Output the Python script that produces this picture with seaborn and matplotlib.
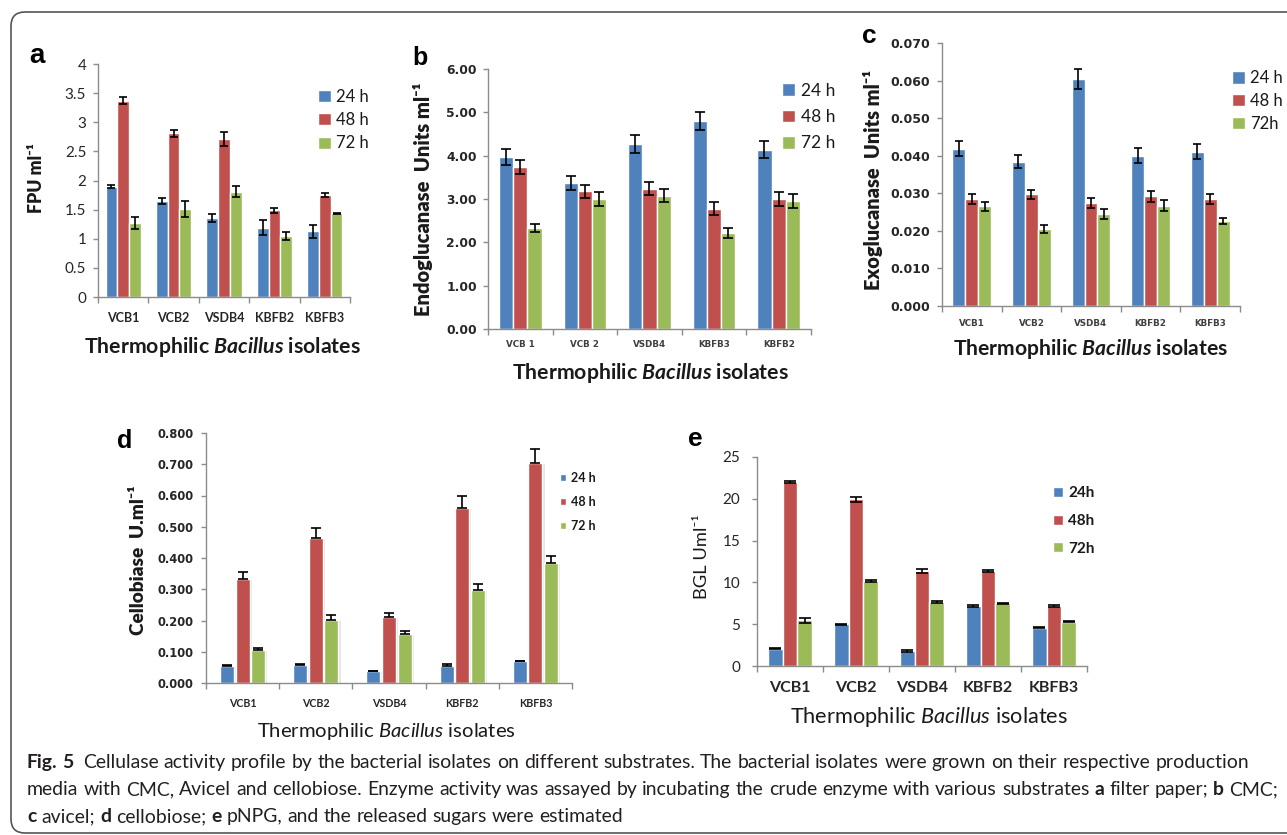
import numpy as np
import pandas as pd
import matplotlib
matplotlib.use("Agg")
import matplotlib.pyplot as plt
import seaborn as sns
import matplotlib.patheffects as pe
from matplotlib.patches import FancyBboxPatch
from matplotlib.transforms import IdentityTransform

# ---------------- data ----------------
times = ["24 h", "48 h", "72 h"]
times_c = ["24 h", "48 h", "72h"]
times_e = ["24h", "48h", "72h"]

isolates_a = ["VCB1", "VCB2", "VSDB4", "KBFB2", "KBFB3"]
a_24 = [1.89, 1.65, 1.36, 1.19, 1.13]
a_48 = [3.37, 2.81, 2.71, 1.49, 1.75]
a_72 = [1.27, 1.51, 1.81, 1.04, 1.44]
a_err24 = [0.025, 0.045, 0.07, 0.13, 0.11]
a_err48 = [0.06, 0.065, 0.125, 0.045, 0.04]
a_err72 = [0.095, 0.13, 0.10, 0.07, 0.01]
a_ticks = [0, 0.5, 1, 1.5, 2, 2.5, 3, 3.5, 4]
a_ticklabels = ["0", "0.5", "1", "1.5", "2", "2.5", "3", "3.5", "4"]

isolates_b = ["VCB 1", "VCB 2", "VSDB4", "KBFB3", "KBFB2"]
b_24 = [3.97, 3.37, 4.27, 4.80, 4.14]
b_48 = [3.74, 3.18, 3.24, 2.78, 3.00]
b_72 = [2.34, 3.01, 3.08, 2.22, 2.95]
b_err24 = [0.185, 0.17, 0.20, 0.21, 0.19]
b_err48 = [0.16, 0.15, 0.155, 0.15, 0.16]
b_err72 = [0.09, 0.16, 0.155, 0.11, 0.155]
b_ticks = [0, 1, 2, 3, 4, 5, 6]
b_ticklabels = ["0.00", "1.00", "2.00", "3.00", "4.00", "5.00", "6.00"]

isolates_c = ["VCB1", "VCB2", "VSDB4", "KBFB2", "KBFB3"]
c_24 = [0.0419, 0.0384, 0.0604, 0.0400, 0.0410]
c_48 = [0.0285, 0.0297, 0.0274, 0.0292, 0.0285]
c_72 = [0.0266, 0.0205, 0.0244, 0.0267, 0.0226]
c_err24 = [0.0020, 0.0018, 0.0027, 0.0020, 0.0020]
c_err48 = [0.0013, 0.0013, 0.0014, 0.0015, 0.0014]
c_err72 = [0.0012, 0.0010, 0.0013, 0.0014, 0.0009]
c_ticks = [0, 0.01, 0.02, 0.03, 0.04, 0.05, 0.06, 0.07]
c_ticklabels = ["0.000", "0.010", "0.020", "0.030", "0.040", "0.050", "0.060", "0.070"]

isolates_d = ["VCB1", "VCB2", "VSDB4", "KBFB2", "KBFB3"]
d_24 = [0.055, 0.058, 0.037, 0.055, 0.069]
d_48 = [0.332, 0.465, 0.210, 0.561, 0.705]
d_72 = [0.106, 0.201, 0.156, 0.297, 0.383]
d_err24 = [0.003, 0.003, 0.002, 0.007, 0.003]
d_err48 = [0.022, 0.030, 0.013, 0.038, 0.044]
d_err72 = [0.007, 0.016, 0.011, 0.021, 0.025]
d_ticks = [0, 0.1, 0.2, 0.3, 0.4, 0.5, 0.6, 0.7, 0.8]
d_ticklabels = ["0.000", "0.100", "0.200", "0.300", "0.400", "0.500", "0.600", "0.700", "0.800"]

isolates_e = ["VCB1", "VCB2", "VSDB4", "KBFB2", "KBFB3"]
e_24 = [2.08, 5.00, 1.80, 7.16, 4.56]
e_48 = [22.0, 19.96, 11.36, 11.40, 7.16]
e_72 = [5.48, 10.20, 7.64, 7.48, 5.28]
e_err24 = [0.05, 0.05, 0.10, 0.10, 0.05]
e_err48 = [0.10, 0.30, 0.25, 0.10, 0.10]
e_err72 = [0.30, 0.10, 0.10, 0.10, 0.05]
e_ticks = [0, 5, 10, 15, 20, 25]
e_ticklabels = ["0", "5", "10", "15", "20", "25"]

COLORS = ["#4F81BD", "#C0504D", "#9BBB59"]

# ---------------- style ----------------
sns.set_style("white")
plt.rcParams["font.family"] = ["Lato", "DejaVu Sans"]
plt.rcParams["mathtext.fontset"] = "custom"
plt.rcParams["mathtext.rm"] = "Lato"
plt.rcParams["mathtext.it"] = "Lato:italic"
plt.rcParams["mathtext.bf"] = "Lato:bold"
plt.rcParams["mathtext.bfit"] = "Lato:italic:bold"
plt.rcParams["text.color"] = "#1a1a1a"

W, H = 1287, 835
fig = plt.figure(figsize=(W / 100, H / 100), dpi=100)
fig.patch.set_facecolor("white")
R = fig.canvas.get_renderer()


def fbox(x0, y0, x1, y1):
    return [x0 / W, 1 - y1 / H, (x1 - x0) / W, (y1 - y0) / H]


def fpt(x, y):
    return (x / W, 1 - y / H)


def fit(t, target, vertical=False):
    for _ in range(3):
        bb = t.get_window_extent(R)
        cur = bb.height if vertical else bb.width
        if cur > 0:
            t.set_fontsize(t.get_fontsize() * target / cur)


def panel(box, cats, hues, vals, errs, ticks, ticklabels, width, capsize,
          ytick_font, xtick_font, xpad, ypad, xlabel, xlabel_pos, xlabel_w,
          xlabel_weight, ylabel, ylabel_pos, ylabel_h, ylabel_weight,
          leg_anchor, leg_font, leg_weight, leg_hl, leg_ls,
          gap=0.0, upper_only=False, shadow=False):
    ax = fig.add_axes(fbox(*box))
    rows = []
    for h, v in zip(hues, vals):
        for c, y in zip(cats, v):
            rows.append((c, h, y))
    df = pd.DataFrame(rows, columns=["isolate", "time", "value"])
    sns.barplot(data=df, x="isolate", y="value", hue="time", order=cats,
                hue_order=hues, palette=COLORS, width=width, gap=gap,
                errorbar=None, saturation=1, ax=ax, legend=True, zorder=2)
    bars = list(ax.containers[:len(hues)])
    for cont, e in zip(bars, errs):
        xs = [p.get_x() + p.get_width() / 2 for p in cont]
        ys = [p.get_height() for p in cont]
        e = np.asarray(e)
        yerr = [np.zeros(len(e)), e] if upper_only else e
        ax.errorbar(xs, ys, yerr=yerr, fmt="none", ecolor="black",
                    elinewidth=1.2, capsize=capsize, capthick=1.2, zorder=5)
        if shadow:
            for p in cont:
                p.set_path_effects([pe.SimplePatchShadow(offset=(1.6, -0.6),
                                                         shadow_rgbFace="#c8c8c8",
                                                         alpha=0.45),
                                    pe.Normal()])
    # axes styling
    for s in ["top", "right"]:
        ax.spines[s].set_visible(False)
    for s in ["left", "bottom"]:
        ax.spines[s].set_color("#8c8c8c")
        ax.spines[s].set_linewidth(1.0)
    ax.set_xlim(-0.5, len(cats) - 0.5)
    ax.set_ylim(ticks[0], ticks[-1])
    ax.set_yticks(ticks)
    ax.set_yticklabels(ticklabels)
    ax.set_xticks(range(len(cats)))
    ax.set_xticklabels(cats)
    ax.set_xticks(np.arange(-0.5, len(cats)), minor=True)
    ax.tick_params(axis="x", which="major", bottom=True, length=0, pad=xpad)
    ax.tick_params(axis="x", which="minor", bottom=True, length=4,
                   width=1, color="#8c8c8c", direction="out")
    ax.tick_params(axis="y", which="major", left=True, length=3.5, width=1,
                   color="#8c8c8c", direction="out", pad=ypad)
    fam, size, wt, col = ytick_font
    for lab in ax.get_yticklabels():
        lab.set_family(fam); lab.set_fontsize(size); lab.set_fontweight(wt); lab.set_color(col)
    fam, size, wt, col = xtick_font
    for lab in ax.get_xticklabels():
        lab.set_family(fam); lab.set_fontsize(size); lab.set_fontweight(wt); lab.set_color(col)
    ax.grid(False)
    # labels
    ax.set_xlabel(xlabel, fontsize=13, fontweight=xlabel_weight, color="#1a1a1a")
    ax.xaxis.set_label_coords(*fpt(*xlabel_pos), transform=fig.transFigure)
    ax.xaxis.label.set_verticalalignment("center")
    fit(ax.xaxis.label, xlabel_w)
    ax.set_ylabel(ylabel, fontsize=13, fontweight=ylabel_weight, color="#1a1a1a")
    ax.yaxis.set_label_coords(*fpt(*ylabel_pos), transform=fig.transFigure)
    ax.yaxis.label.set_verticalalignment("center")
    fit(ax.yaxis.label, ylabel_h, vertical=True)
    # legend
    leg = ax.get_legend()
    handles = leg.legend_handles
    labels = [t.get_text() for t in leg.get_texts()]
    leg.remove()
    ax.legend(handles, labels, loc="center left",
              bbox_to_anchor=fpt(*leg_anchor), bbox_transform=fig.transFigure,
              frameon=False, prop={"size": leg_font, "weight": leg_weight},
              handlelength=leg_hl, handleheight=leg_hl, handletextpad=0.35,
              labelspacing=leg_ls, borderpad=0, borderaxespad=0)
    return ax


XL_BOLD = r"Thermophilic $\mathbfit{Bacillus}$ isolates"
XL_NORM = r"Thermophilic $\mathit{Bacillus}$ isolates"

# panel a
panel((98, 64, 350, 297), isolates_a, times, [a_24, a_48, a_72],
      [a_err24, a_err48, a_err72], a_ticks, a_ticklabels, 0.70, 2.6,
      ("Lato", 11, "normal", "#262626"), ("Lato", 9, "bold", "#262626"),
      10.8, 5,
      XL_BOLD, (222, 347), 277, "bold",
      "FPU ml\u207b\u00b9", (37, 178), 70, "heavy",
      (318, 120), 12, "normal", 0.75, 0.45)

# panel b
panel((488, 69, 811, 329), isolates_b, times, [b_24, b_48, b_72],
      [b_err24, b_err48, b_err72], b_ticks, b_ticklabels, 0.66, 3.6,
      ("DejaVu Sans", 8.8, "bold", "#262626"), ("DejaVu Sans", 6.3, "bold", "#404040"),
      8, 4.5,
      XL_BOLD, (650, 373), 277, "bold",
      "Endoglucanase  Units ml\u207b\u00b9", (423, 199), 235, "heavy",
      (782, 117), 12.5, "normal", 0.75, 0.6)

# panel c
panel((942, 43, 1240, 306), isolates_c, times_c, [c_24, c_48, c_72],
      [c_err24, c_err48, c_err72], c_ticks, c_ticklabels, 0.65, 3.1,
      ("DejaVu Sans", 9, "bold", "#262626"), ("DejaVu Sans", 6.3, "bold", "#404040"),
      9.4, 5.3,
      XL_BOLD, (1091, 349), 275, "bold",
      "Exoglucanase  Units ml\u207b\u00b9", (873, 180), 220, "heavy",
      (1232, 101), 12, "normal", 0.75, 0.4)

# panel d
panel((206, 433, 572, 683), isolates_d, times, [d_24, d_48, d_72],
      [d_err24, d_err48, d_err72], d_ticks, d_ticklabels, 0.64, 3.6,
      ("DejaVu Sans", 8.3, "bold", "#262626"), ("Lato", 7.7, "bold", "#262626"),
      10.8, 5.3,
      XL_NORM, (386, 732), 258, "normal",
      "Cellobiase  U.ml\u207b\u00b9", (138, 560), 150, "heavy",
      (560, 502), 9, "bold", 0.5, 0.95, gap=0.1, upper_only=True, shadow=True)

# panel e
panel((757, 457, 1087, 666), isolates_e, times_e, [e_24, e_48, e_72],
      [e_err24, e_err48, e_err72], e_ticks, e_ticklabels, 0.68, 4.3,
      ("Lato", 11, "normal", "#262626"), ("Lato", 11.5, "bold", "#262626"),
      10.8, 8.7,
      XL_NORM, (929, 717), 278, "normal",
      "BGL Uml\u207b\u00b9", (702, 557), 85, "normal",
      (1053, 521), 11, "bold", 0.65, 0.9)

# panel letters
for letter, x, y, s in [("a", 29, 63, 20), ("b", 412, 65, 18), ("c", 862, 43, 19),
                        ("d", 117, 448, 18), ("e", 688, 446, 19)]:
    fig.text(*fpt(x, y), letter, fontsize=s, fontweight="bold",
             family="Liberation Sans", va="baseline", ha="left", color="black")

# frame
frame = FancyBboxPatch((11, 2), 1400, 821, boxstyle="round,pad=0,rounding_size=14",
                       transform=IdentityTransform(), fill=False,
                       edgecolor="#555555", linewidth=1.2)
fig.add_artist(frame)

# caption
CAP_FAMILY = "Lato"
cap_lines = [
    [("Fig. 5", "bold"),
     ("Cellulase activity profile by the bacterial isolates on different substrates. "
      "The bacterial isolates were grown on their respective production", "normal")],
    [("media with CMC, Avicel and cellobiose. Enzyme activity was assayed by incubating "
      "the crude enzyme with various substrates", "normal"),
     ("a", "bold"), ("filter paper;", "normal"), ("b", "bold"), ("CMC;", "normal")],
    [("c", "bold"), ("avicel;", "normal"), ("d", "bold"), ("cellobiose;", "normal"),
     ("e", "bold"), ("pNPG, and the released sugars were estimated", "normal")],
]


def tokens_of(pieces):
    out = []
    for s, w in pieces:
        for word in s.split():
            out.append((word, w))
    return out


def space_w(size):
    t1 = fig.text(0, 0, "x x", fontsize=size, family=CAP_FAMILY)
    t2 = fig.text(0, 0, "xx", fontsize=size, family=CAP_FAMILY)
    sp = t1.get_window_extent(R).width - t2.get_window_extent(R).width
    t1.remove(); t2.remove()
    return sp


def line_width(pieces, size):
    toks = tokens_of(pieces)
    sp = space_w(size)
    tot = 0
    for word, w in toks:
        t = fig.text(0, 0, word, fontsize=size, fontweight=w, family=CAP_FAMILY)
        tot += t.get_window_extent(R).width
        t.remove()
    return tot + sp * (len(toks) - 1)


def draw_line(pieces, x0, ybase, size, extra_after=None):
    toks = tokens_of(pieces)
    sp = space_w(size)
    x = x0
    for i, (word, w) in enumerate(toks):
        t = fig.text(*fpt(x, ybase), word, fontsize=size, fontweight=w,
                     family=CAP_FAMILY, color="#231f20", va="baseline", ha="left")
        x += t.get_window_extent(R).width + sp
        if extra_after is not None and i == extra_after:
            x += sp * 0.8


base = 12
w2 = line_width(cap_lines[1], base)
cap_size = base * 1244 / w2
for k, (pieces, yb) in enumerate(zip(cap_lines, [768, 795, 822])):
    draw_line(pieces, 27, yb, cap_size, extra_after=1 if k == 0 else None)

fig.savefig("out.png", dpi=100, facecolor="white")
